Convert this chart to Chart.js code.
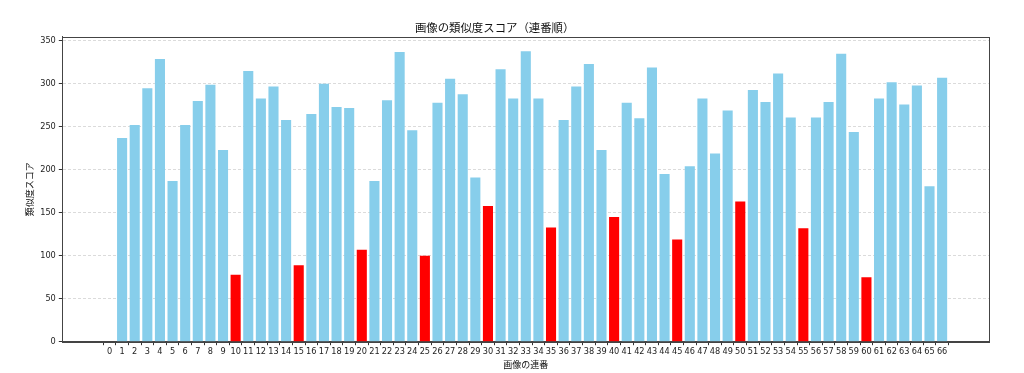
<!DOCTYPE html>
<html><head><meta charset="utf-8">
<script src="https://cdn.jsdelivr.net/npm/chart.js@4/dist/chart.umd.min.js"></script>
<style>html,body{margin:0;padding:0;background:#fff}</style>
</head><body>
<canvas id="c" width="1024" height="373"></canvas>
<script>
const indices = [0,1,2,3,4,5,6,7,8,9,10,11,12,13,14,15,16,17,18,19,20,21,22,23,24,25,26,27,28,29,30,31,32,33,34,35,36,37,38,39,40,41,42,43,44,45,46,47,48,49,50,51,52,53,54,55,56,57,58,59,60,61,62,63,64,65,66];
const scores = [0,237,252,295,329,187,252,280,299,223,78,315,283,297,258,89,265,300,273,272,107,187,281,337,246,100,278,306,288,191,158,317,283,338,283,133,258,297,323,223,145,278,260,319,195,119,204,283,219,269,163,293,279,312,261,132,261,279,335,244,75,283,302,276,298,181,307];
const highlighted = [10,15,20,25,30,35,40,45,50,55,60];
const xTickLabels = indices.map(String);
const yTicks = [0,50,100,150,200,250,300,350];
const titleText = '画像の類似度スコア（連番順）';
const xTitle = '画像の連番';
const yTitle = '類似度スコア';

const NORMAL = '#87CEEB', HIGHLIGHT = '#FF0000';
const colors = indices.map(i => highlighted.includes(i) ? HIGHLIGHT : NORMAL);

const frame = {
  id: 'frame',
  afterDraw(chart) {
    const a = chart.chartArea, ctx = chart.ctx;
    ctx.save();
    ctx.strokeStyle = '#444';
    ctx.lineWidth = 1;
    ctx.strokeRect(Math.round(a.left) + 0.5, Math.round(a.top) + 0.5,
                   Math.round(a.right) - Math.round(a.left), Math.round(a.bottom) - Math.round(a.top));
    ctx.restore();
  }
};

const tickFont = {family: "'DejaVu Sans', sans-serif", size: 8.2};
const cjkFont = {family: "'Noto Sans CJK JP', 'DejaVu Sans', sans-serif", size: 9};

new Chart(document.getElementById('c'), {
  type: 'bar',
  data: {
    datasets: [{
      data: indices.map((x, i) => ({x: x, y: scores[i]})),
      backgroundColor: colors,
      borderWidth: 0,
      barPercentage: 0.8,
      categoryPercentage: 1.0
    }]
  },
  options: {
    responsive: false,
    animation: false,
    devicePixelRatio: 1,
    layout: {padding: {left: 0, right: 34.7, top: 0, bottom: 0}},
    plugins: {
      legend: {display: false},
      tooltip: {enabled: false},
      title: {
        display: true,
        text: titleText,
        color: '#111',
        font: {family: "'Noto Sans CJK JP', sans-serif", size: 11.4, weight: 'normal'},
        padding: {top: 20.7, bottom: 2.3}
      }
    },
    scales: {
      x: {
        type: 'linear',
        min: -3.74,
        max: 69.74,
        offset: false,
        afterBuildTicks: s => { s.ticks = indices.map(v => ({value: v})); },
        afterFit: s => { s.height = 31.3; },
        ticks: {
          autoSkip: false,
          maxRotation: 0,
          color: '#222',
          font: tickFont,
          padding: 1.6,
          callback: (v, i) => xTickLabels[i]
        },
        grid: {display: true, drawOnChartArea: false, tickLength: 3.5, tickColor: '#333'},
        border: {display: true, color: '#444'},
        title: {display: true, text: xTitle, color: '#111', font: cjkFont, padding: {top: 0, bottom: 2.6}}
      },
      y: {
        type: 'linear',
        min: 0,
        max: 354.9,
        z: 1,
        afterBuildTicks: s => { s.ticks = yTicks.map(v => ({value: v})); },
        afterFit: s => { s.width = 62.3; },
        ticks: {color: '#222', font: tickFont, padding: 3, callback: v => String(v)},
        grid: {
          display: true,
          color: 'rgba(176,176,176,0.45)',
          tickLength: 3.5,
          tickColor: '#333',
          tickBorderDash: []
        },
        border: {display: true, color: '#444', dash: [3, 2]},
        title: {display: true, text: yTitle, color: '#111', font: cjkFont, padding: {top: 23.9, bottom: 0}}
      }
    }
  },
  plugins: [frame]
});
</script>
</body></html>
